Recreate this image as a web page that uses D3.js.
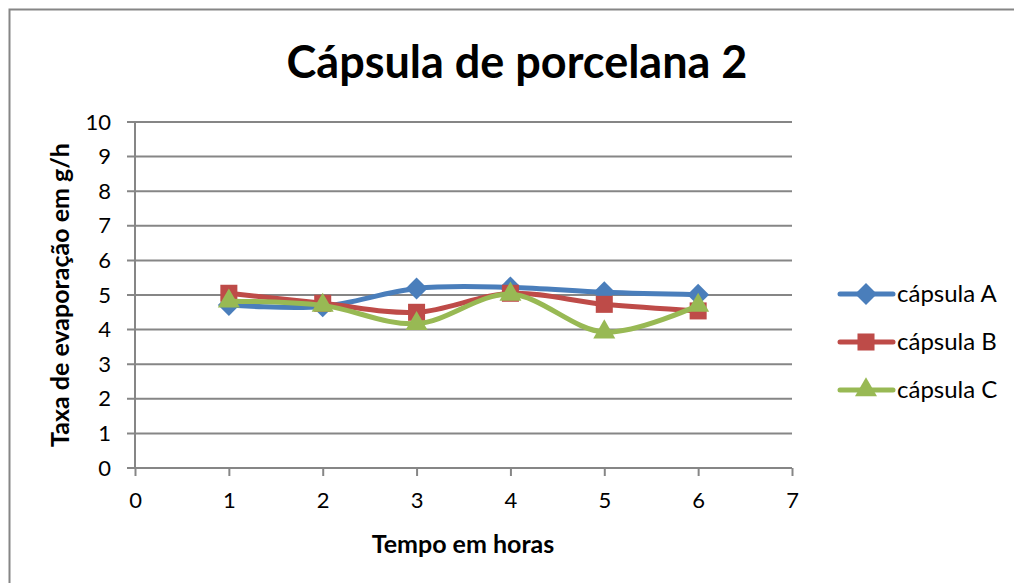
<!DOCTYPE html>
<html>
<head>
<meta charset="utf-8">
<script src="https://cdn.jsdelivr.net/npm/d3@7"></script>
<style>
  html, body { margin: 0; background: #fff; overflow: hidden; }
  svg { display: block; }
  text { font-family: Lato, "Open Sans", sans-serif; fill: #000; }
</style>
</head>
<body>
<svg id="chart"></svg>
<script>
var hours = [1, 2, 3, 4, 5, 6];
var capsulaA = [4.71, 4.67, 5.19, 5.22, 5.08, 5.01];
var capsulaB = [5.05, 4.76, 4.50, 5.05, 4.73, 4.54];
var capsulaC = [4.82, 4.70, 4.17, 5.02, 3.93, 4.70];
var seriesNames = ["cápsula A", "cápsula B", "cápsula C"];
var xTicks = [0, 1, 2, 3, 4, 5, 6, 7];
var yTicks = [0, 1, 2, 3, 4, 5, 6, 7, 8, 9, 10];

var W = 1014, H = 583;
var margin = {top: 122, right: 222, bottom: 115, left: 135},
    width = W - margin.left - margin.right,
    height = H - margin.top - margin.bottom;

var colors = ["#4a7ebb", "#be4b48", "#98b954"];
var shapes = [d3.symbolSquare, d3.symbolSquare, d3.symbolTriangle];
var sizes = [240, 290, 210];
var rotations = [45, 0, 0];

var root = d3.select("#chart")
    .attr("width", W)
    .attr("height", H);

// chart border (only top and left edges are in view)
root.append("path")
    .attr("d", "M9.5," + (H + 5) + "V9.5H" + (W + 5))
    .attr("fill", "none")
    .attr("stroke", "#868686")
    .attr("stroke-width", 2);

root.append("text")
    .attr("x", 517).attr("y", 78)
    .attr("text-anchor", "middle")
    .style("font-size", "45px")
    .style("font-weight", "bold")
    .text("Cápsula de porcelana 2");

var svg = root.append("g")
    .attr("transform", "translate(" + margin.left + "," + margin.top + ")");

var x = d3.scaleLinear().domain([0, 7]).range([0, width]);
var y = d3.scaleLinear().domain([0, 10]).range([height, 0]);

// gridlines
svg.append("g")
  .selectAll("line")
  .data(yTicks)
  .enter()
  .append("line")
    .attr("x1", -8).attr("x2", width)
    .attr("y1", function(d) { return y(d); })
    .attr("y2", function(d) { return y(d); })
    .attr("stroke", "#868686")
    .attr("stroke-width", 2);

var yAxis = svg.append("g")
    .call(d3.axisLeft(y).tickValues(yTicks).tickFormat(d3.format("d")).tickSize(0).tickPadding(24));
yAxis.select(".domain").attr("stroke", "#868686").attr("stroke-width", 2).attr("d", "M0,0V" + height);
yAxis.selectAll("text").style("font-size", "22px").style("font-family", "Lato, sans-serif");

var xAxis = svg.append("g")
    .attr("transform", "translate(0," + height + ")")
    .call(d3.axisBottom(x).tickValues(xTicks).tickFormat(d3.format("d")).tickSize(8).tickPadding(16));
xAxis.select(".domain").attr("stroke", "#868686").attr("stroke-width", 2).attr("d", "M0,0H" + width);
xAxis.selectAll("line").attr("stroke", "#868686").attr("stroke-width", 2);
xAxis.selectAll("text").style("font-size", "22px").style("font-family", "Lato, sans-serif");

root.append("text")
    .attr("x", 463).attr("y", 553)
    .attr("text-anchor", "middle")
    .style("font-size", "25px")
    .style("font-weight", "bold")
    .text("Tempo em horas");

root.append("text")
    .attr("transform", "translate(69,295) rotate(-90)")
    .attr("text-anchor", "middle")
    .style("font-size", "25px")
    .style("font-weight", "bold")
    .text("Taxa de evaporação em g/h");

var allSeries = [capsulaA, capsulaB, capsulaC];

var line = d3.line()
    .x(function(d, i) { return x(hours[i]); })
    .y(function(d) { return y(d); })
    .curve(d3.curveCatmullRom.alpha(0));

allSeries.forEach(function(vals, s) {
  svg.append("path")
    .datum(vals)
    .attr("fill", "none")
    .attr("stroke", colors[s])
    .attr("stroke-width", 5)
    .attr("stroke-linecap", "round")
    .attr("d", line);
  svg.append("g")
    .selectAll("path")
    .data(vals)
    .enter()
    .append("path")
      .attr("transform", function(d, i) {
        return "translate(" + x(hours[i]) + "," + y(d) + ") rotate(" + rotations[s] + ")";
      })
      .attr("d", d3.symbol().type(shapes[s]).size(sizes[s]))
      .attr("fill", colors[s]);
});

// legend
var legend = root.append("g")
  .selectAll("g")
  .data(seriesNames)
  .enter()
  .append("g")
    .attr("transform", function(d, i) { return "translate(838," + (294 + i * 48) + ")"; });

legend.append("line")
    .attr("x1", 2).attr("x2", 55)
    .attr("stroke", function(d, i) { return colors[i]; })
    .attr("stroke-width", 5)
    .attr("stroke-linecap", "round");
legend.append("path")
    .attr("transform", function(d, i) { return "translate(28,0) rotate(" + rotations[i] + ")"; })
    .attr("d", function(d, i) { return d3.symbol().type(shapes[i]).size(sizes[i])(); })
    .attr("fill", function(d, i) { return colors[i]; });
legend.append("text")
    .attr("x", 59).attr("dy", "0.35em")
    .style("font-size", "24px")
    .text(function(d) { return d; });
</script>
</body>
</html>
